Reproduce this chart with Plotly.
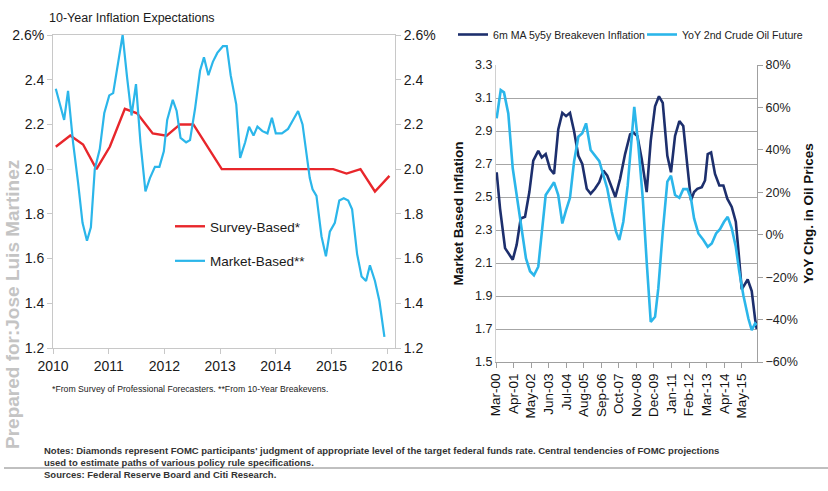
import plotly.graph_objects as go

W, H = 828, 491
def px(x): return x / W
def py(y): return 1 - y / H

FONT = "Liberation Sans, Arial"

# ---------------- Left chart data (decimal years) ----------------
survey_x = [2010.05, 2010.31, 2010.54, 2010.78, 2011.02, 2011.29, 2011.51, 2011.79,
            2012.04, 2012.28, 2012.52, 2013.03, 2013.28, 2013.53, 2013.78, 2014.03,
            2014.28, 2014.53, 2014.78, 2015.03, 2015.27, 2015.52, 2015.78, 2016.04]
survey_y = [2.10, 2.15, 2.11, 2.00, 2.10, 2.27, 2.25, 2.16,
            2.15, 2.20, 2.20, 2.00, 2.00, 2.00, 2.00, 2.00,
            2.00, 2.00, 2.00, 2.00, 1.98, 2.00, 1.90, 1.97]

market_x = [2010.05, 2010.13, 2010.20, 2010.27, 2010.36, 2010.45, 2010.53, 2010.61, 2010.68,
            2010.75, 2010.84, 2010.92, 2011.01, 2011.08, 2011.17, 2011.25, 2011.33, 2011.41,
            2011.49, 2011.57, 2011.66, 2011.74, 2011.83, 2011.91, 2011.99, 2012.05, 2012.15,
            2012.22, 2012.29, 2012.39, 2012.46, 2012.55, 2012.64, 2012.71, 2012.79, 2012.87,
            2012.95, 2013.05, 2013.12, 2013.19, 2013.29, 2013.36, 2013.45, 2013.52, 2013.60,
            2013.67, 2013.76, 2013.85, 2013.93, 2014.00, 2014.11, 2014.22, 2014.31, 2014.40,
            2014.48, 2014.55, 2014.61, 2014.66, 2014.73, 2014.82, 2014.90, 2014.97, 2015.06,
            2015.14, 2015.22, 2015.30, 2015.37, 2015.46, 2015.54, 2015.62, 2015.69, 2015.78,
            2015.86, 2015.95]
market_y = [2.36, 2.28, 2.22, 2.35, 2.12, 1.94, 1.76, 1.68, 1.74,
            2.00, 2.09, 2.25, 2.33, 2.34, 2.47, 2.60, 2.41, 2.24,
            2.38, 2.12, 1.90, 1.96, 2.01, 2.01, 2.08, 2.22, 2.31,
            2.26, 2.14, 2.12, 2.13, 2.27, 2.44, 2.50, 2.42, 2.48,
            2.52, 2.55, 2.55, 2.42, 2.29, 2.05, 2.12, 2.19, 2.15,
            2.19, 2.17, 2.16, 2.23, 2.16, 2.16, 2.18, 2.22, 2.26,
            2.20, 2.08, 1.96, 1.91, 1.88, 1.70, 1.61, 1.72, 1.76,
            1.86, 1.87, 1.86, 1.82, 1.62, 1.52, 1.50, 1.57, 1.50,
            1.41, 1.25]

left_yticks = [1.2, 1.4, 1.6, 1.8, 2.0, 2.2, 2.4, 2.6]
left_yticktext = ["1.2", "1.4", "1.6", "1.8", "2.0", "2.2", "2.4", "2.6%"]
left_xticks = [2010, 2011, 2012, 2013, 2014, 2015, 2016]

# ---------------- Right chart data (months since Mar-2000) ----------------
be_m = [0.5, 3.0, 6.7, 9.9, 12.4, 15.3, 18.3, 21.5, 24.7, 27.6, 31.3, 33.9, 36.8, 40.0,
        43.0, 46.1, 49.1, 51.9, 54.8, 57.8, 61.0, 63.9, 67.2, 70.1, 73.3, 76.5, 79.5,
        82.4, 85.7, 88.4, 91.9, 95.6, 99.3, 101.7, 104.7, 107.9, 111.6, 114.6, 117.8,
        120.7, 123.5, 126.9, 129.6, 132.6, 135.8, 138.7, 141.7, 144.4, 146.7, 149.1,
        152.4, 154.8, 156.8, 159.3, 162.2, 165.4, 168.4, 171.3, 174.6, 177.6, 179.5,
        182.0, 186.4, 189.4, 191.9, 193.1]
be_v = [2.65, 2.43, 2.19, 2.15, 2.12, 2.21, 2.37, 2.38, 2.53, 2.72, 2.78, 2.74, 2.76, 2.67,
        2.64, 2.91, 3.01, 2.99, 3.01, 2.90, 2.75, 2.70, 2.55, 2.52, 2.55, 2.59, 2.66,
        2.63, 2.56, 2.50, 2.61, 2.76, 2.88, 2.89, 2.87, 2.73, 2.53, 2.84, 3.05,
        3.11, 3.07, 2.75, 2.65, 2.87, 2.96, 2.93, 2.69, 2.48, 2.53, 2.55,
        2.56, 2.60, 2.76, 2.77, 2.64, 2.57, 2.57, 2.49, 2.44, 2.35, 2.18,
        1.94, 2.00, 1.93, 1.76, 1.70]

oil_m = [0.5, 3.5, 5.9, 9.1, 12.4, 15.3, 19.0, 22.2, 25.2, 28.1, 31.3, 33.9, 36.8, 40.0,
         43.0, 46.1, 49.1, 51.9, 54.8, 57.8, 61.0, 63.9, 66.7, 70.1, 73.3, 76.5, 79.5,
         82.4, 85.7, 88.9, 91.3, 94.3, 97.5, 100.5, 102.4, 105.4, 108.7, 111.6, 114.6,
         117.8, 120.2, 123.5, 126.9, 129.6, 132.6, 135.8, 138.7, 141.7, 144.4, 146.7,
         149.9, 153.6, 156.8, 159.8, 163.0, 165.9, 168.9, 171.6, 174.6, 177.6, 180.2,
         183.2, 186.9, 189.4, 191.9, 193.1]
oil_v = [54.9, 68.2, 67.1, 57.2, 31.3, 18.7, 1.4, -11.2, -17.2, -19.1, -15.1, 1.4, 18.7, 21.8,
         24.7, 18.7, 5.3, 11.6, 17.4, 34.4, 46.2, 47.8, 52.5, 39.9, 37.5, 34.7, 28.1,
         21.8, 10.8, 1.4, -2.5, 6.1, 23.0, 45.4, 60.3, 42.3, 17.1, -12.8, -41.1,
         -38.7, -25.3, 1.4, 25.0, 27.8, 18.7, 17.4, 21.5, 21.5, 17.1, 7.7,
         0.6, -2.5, -5.7, -4.1, 0.6, 2.6, 6.1, 8.4, 3.0, -5.7, -17.5,
         -28.5, -39.5, -45.0, -41.8, -42.6]

right_xtickvals = [0, 13, 26, 39, 52, 65, 78, 91, 104, 117, 130, 143, 156, 169, 182]
right_xticktext = ["Mar-00", "Apr-01", "May-02", "Jun-03", "Jul-04", "Aug-05", "Sep-06",
                   "Oct-07", "Nov-08", "Dec-09", "Jan-11", "Feb-12", "Mar-13", "Apr-14",
                   "May-15"]

RED = "#E8262B"
LBLUE = "#2BB6EA"
NAVY = "#1D2F6D"
AXIS = "#C8C8C8"

fig = go.Figure()

fig.add_trace(go.Scatter(x=survey_x, y=survey_y, mode="lines", name="Survey-Based*",
                         line=dict(color=RED, width=2.4), xaxis="x", yaxis="y",
                         legend="legend", legendgroup="a"))
fig.add_trace(go.Scatter(x=market_x, y=market_y, mode="lines", name="Market-Based**",
                         line=dict(color=LBLUE, width=2.2), xaxis="x", yaxis="y2",
                         legend="legend", legendgroup="b"))
fig.add_trace(go.Scatter(x=be_m, y=be_v, mode="lines", name="6m MA 5y5y Breakeven Inflation",
                         line=dict(color=NAVY, width=2.6), xaxis="x3", yaxis="y3",
                         legend="legend2"))
fig.add_trace(go.Scatter(x=oil_m, y=oil_v, mode="lines", name="YoY 2nd Crude Oil Future",
                         line=dict(color=LBLUE, width=2.6), xaxis="x3", yaxis="y4",
                         legend="legend3"))

tickfont_l = dict(family=FONT, size=14, color="#1a1a1a")
tickfont_r = dict(family=FONT, size=12.5, color="#222222")

fig.update_layout(
    width=W, height=H, margin=dict(l=0, r=0, t=0, b=0),
    paper_bgcolor="white", plot_bgcolor="white",
    xaxis=dict(domain=[px(53), px(395)], range=[2010, 2016.14], tickvals=left_xticks,
               ticks="outside", ticklen=5, tickcolor=AXIS, showline=True, linecolor=AXIS,
               mirror=True, showgrid=False, zeroline=False, tickfont=tickfont_l,
               anchor="y", automargin=False),
    yaxis=dict(domain=[py(348), py(35)], range=[1.2, 2.6], tickvals=left_yticks,
               ticktext=left_yticktext, ticks="outside", ticklen=5, tickcolor=AXIS,
               showline=True, linecolor=AXIS, showgrid=False, zeroline=False,
               tickfont=tickfont_l, anchor="x", automargin=False),
    yaxis2=dict(overlaying="y", side="right", range=[1.2, 2.6], tickvals=left_yticks,
                ticktext=left_yticktext, ticks="outside", ticklen=5, tickcolor=AXIS,
                showline=True, linecolor=AXIS, showgrid=False, zeroline=False,
                tickfont=tickfont_l, anchor="x", automargin=False),
    xaxis3=dict(domain=[px(496), px(757)], range=[0, 193.3], tickvals=right_xtickvals,
                ticktext=right_xticktext, tickangle=-90, ticks="outside", ticklen=5,
                tickcolor="#A0A0A0", showline=True, linecolor="#A0A0A0", showgrid=False,
                zeroline=False, tickfont=dict(family=FONT, size=13.5, color="#111111"),
                anchor="y3", automargin=False),
    yaxis3=dict(domain=[py(362), py(65)], range=[1.5, 3.3], dtick=0.2, tick0=1.5,
                tickformat=".1f", showgrid=True, gridcolor="#A6A6A6", gridwidth=1.3,
                showline=True, linecolor="#D0D0D0", zeroline=False, ticks="",
                tickfont=tickfont_r, anchor="x3", automargin=False,
                title=dict(text="<b>Market Based Inflation</b>", standoff=8,
                           font=dict(family=FONT, size=13.5, color="#111111"))),
    yaxis4=dict(overlaying="y3", side="right", range=[-60, 80], dtick=20, tick0=-60,
                ticksuffix="%", showgrid=False, showline=True, linecolor="#A0A0A0",
                ticks="outside", ticklen=5, tickcolor="#A0A0A0", zeroline=False,
                tickfont=tickfont_r, anchor="x3", automargin=False,
                title=dict(text="<b>YoY Chg. in Oil Prices</b>", standoff=6,
                           font=dict(family=FONT, size=13.5, color="#111111"))),
    legend=dict(x=px(170), y=py(211), xanchor="left", yanchor="top",
                font=dict(family=FONT, size=13.5, color="#1a1a1a"),
                bgcolor="rgba(0,0,0,0)", tracegroupgap=14, itemwidth=30),
    legend2=dict(x=px(453), y=py(20), xanchor="left", yanchor="top", orientation="h",
                 font=dict(family=FONT, size=10.6, color="#222222"),
                 bgcolor="rgba(0,0,0,0)", itemwidth=30),
    legend3=dict(x=px(642), y=py(20), xanchor="left", yanchor="top", orientation="h",
                 font=dict(family=FONT, size=10.6, color="#222222"),
                 bgcolor="rgba(0,0,0,0)", itemwidth=30),
    showlegend=True,
)

annotations = [
    dict(text="10-Year Inflation Expectations", x=px(47), y=py(18), xanchor="left",
         yanchor="middle", font=dict(family=FONT, size=12.5, color="#1a1a1a")),
    dict(text="*From Survey of Professional Forecasters. **From 10-Year Breakevens.",
         x=px(50), y=py(389), xanchor="left", yanchor="middle",
         font=dict(family=FONT, size=8.7, color="#1a1a1a")),
    dict(text="Prepared for:Jose Luis Martinez", x=px(12), y=py(305), textangle=-90,
         xanchor="center", yanchor="middle",
         font=dict(family=FONT, size=19, color="#C4C4C4", weight="bold")),
    dict(text="Notes: Diamonds represent FOMC participants' judgment of appropriate level of the target federal funds rate. Central tendencies of FOMC projections",
         x=px(42), y=py(450), xanchor="left", yanchor="middle",
         font=dict(family=FONT, size=9.5, color="#333333", weight="bold")),
    dict(text="used to estimate paths of various policy rule specifications.",
         x=px(42), y=py(462), xanchor="left", yanchor="middle",
         font=dict(family=FONT, size=9.5, color="#333333", weight="bold")),
    dict(text="Sources: Federal Reserve Board and Citi Research.",
         x=px(42), y=py(474), xanchor="left", yanchor="middle",
         font=dict(family=FONT, size=9.5, color="#333333", weight="bold")),
]
for a in annotations:
    a.update(xref="paper", yref="paper", showarrow=False)
fig.update_layout(annotations=annotations)

fig.add_shape(type="line", xref="paper", yref="paper", x0=px(4), x1=1, y0=py(468), y1=py(468),
              line=dict(color="#808080", width=1))

fig.write_html("out.html")
